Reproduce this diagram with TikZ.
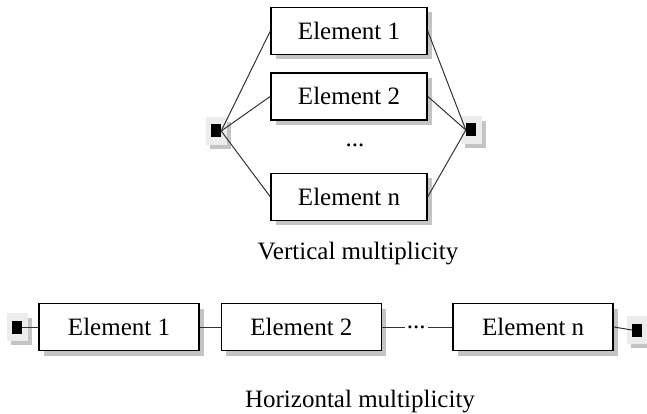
\documentclass[tikz,border=0pt]{standalone}
\usepackage{fontspec}
\setmainfont{Liberation Serif}
\usepackage{tikz}
\usetikzlibrary{positioning, shadows}
\definecolor{mulshadow}{RGB}{196, 196, 196}
\definecolor{mulport}{RGB}{236, 236, 236}
\definecolor{mulline}{RGB}{51, 51, 51}

\begin{document}
\begin{tikzpicture}[x=1pt, y=-1pt, every node/.style={align=center, font=\fontsize{25}{30}\selectfont},
    elem/.style={draw, line width=1.4pt, fill=white, minimum width=156pt, minimum height=47pt, inner sep=0pt,
        drop shadow={shadow xshift=5pt, shadow yshift=-5pt, fill=mulshadow, opacity=1}},
    port/.style={fill=black, minimum width=10pt, minimum height=13pt, inner sep=0pt,
        general shadow={fill=mulshadow, shadow scale=2.1, shadow xshift=2pt, shadow yshift=-2pt},
        general shadow={fill=mulport, shadow scale=2.1}},
    link/.style={draw=mulline, line width=1pt}]
        \useasboundingbox (0,0) rectangle (647,414);

        % vertical multiplicity
        \node[elem] (v1) at (349,31) {Element 1};
        \node[elem, below=17pt of v1] (v2) {Element 2};
        \node[inner sep=2pt, below=21pt of v2, xshift=6pt] (vdots) {...};
        \node[elem, below=52pt of v2] (vn) {Element n};
        \node[port] (vin) at (216,131) {};
        \node[port] (vout) at (471,130) {};
        \node[anchor=base] (vcap) at (358,259) {Vertical multiplicity};

        \draw[link] (vin.east) -- (v1.west);
        \draw[link] (vin.east) -- (v2.west);
        \draw[link] (vin.east) -- (vn.west);
        \draw[link] (vout.west) -- (v1.east);
        \draw[link] (vout.west) -- (v2.east);
        \draw[link] (vout.west) -- (vn.east);

        % horizontal multiplicity
        \node[elem, minimum width=160pt] (h1) at (119,327) {Element 1};
        \node[elem, minimum width=160pt, right=21pt of h1] (h2) {Element 2};
        \node[inner sep=2pt, right=22.6pt of h2] (hdots) {...};
        \node[elem, minimum width=160pt, right=24.6pt of hdots] (hn) {Element n};
        \node[port] (hin) at (17,327) {};
        \node[port] (hout) at (637,330) {};
        \node[anchor=base] (hcap) at (360,407) {Horizontal multiplicity};

        \draw[link] (hin.east) -- (h1.west);
        \draw[link] (h1.east) -- (h2.west);
        \draw[link] (h2.east) -- (hdots.west);
        \draw[link] (hdots.east) -- (hn.west);
        \draw[link] (hn.east) -- (hout.west);
    \end{tikzpicture}
\end{document}
